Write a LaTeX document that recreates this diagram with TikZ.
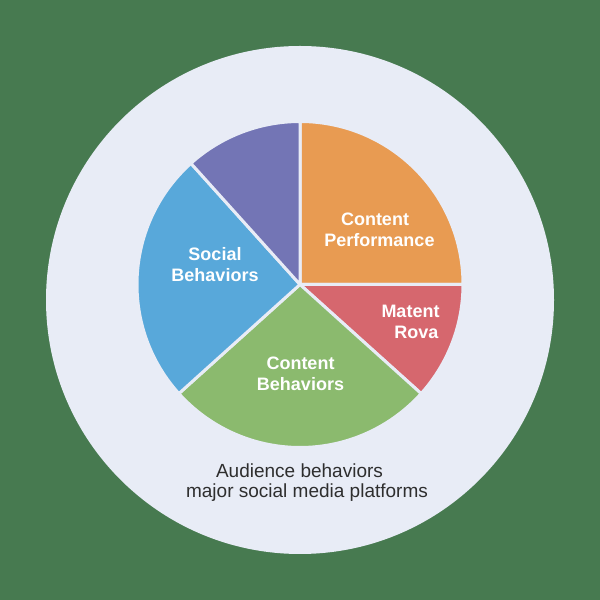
\documentclass[tikz,border=0pt]{standalone}
\usepackage{fontspec}
\setmainfont{Liberation Sans}
\definecolor{bgc}{HTML}{477A50}
\definecolor{disc}{HTML}{E8ECF6}
\definecolor{orangec}{HTML}{E89B52}
\definecolor{redc}{HTML}{D6676E}
\definecolor{greenc}{HTML}{8BBA6E}
\definecolor{bluec}{HTML}{58A8DA}
\definecolor{purplec}{HTML}{7375B5}
\tikzset{
  slice/.style={draw=disc,line width=3pt,line join=round},
  slicelabel/.style={text=white,font=\fontsize{18}{21}\selectfont\bfseries,align=center,inner sep=0pt},
  caption/.style={text=black!82,font=\fontsize{19}{22}\selectfont,inner sep=0pt}
}
\newcommand{\pieslice}[3]{\fill[#3,slice] (300,315.5) -- ++(#1:163) arc[start angle=#1,end angle=#2,radius=163] -- cycle;}
\begin{document}
\begin{tikzpicture}[x=1pt,y=1pt]
\useasboundingbox (0,0) rectangle (600,600);
\fill[bgc] (0,0) rectangle (600,600);
\fill[disc] (300,300) circle[radius=254];
\pieslice{0}{90}{orangec}
\pieslice{-42}{0}{redc}
\pieslice{222}{318}{greenc}
\pieslice{132}{222}{bluec}
\pieslice{90}{132}{purplec}
\node[slicelabel] (perf) at (379.5,370) {Content\hspace*{9pt}\\Performance};
\node[slicelabel] (rova) at (416.5,278.5) {Matent\hspace*{12pt}\\Rova};
\node[slicelabel] (content) at (300.5,226) {Content\\Behaviors};
\node[slicelabel] (social) at (215,335.5) {Social\\Behaviors};
\node[caption] (capa) at (299.5,129.5) {Audience behaviors};
\node[caption] (capb) at (307,107.5) {major social media platforms};
\end{tikzpicture}
\end{document}
